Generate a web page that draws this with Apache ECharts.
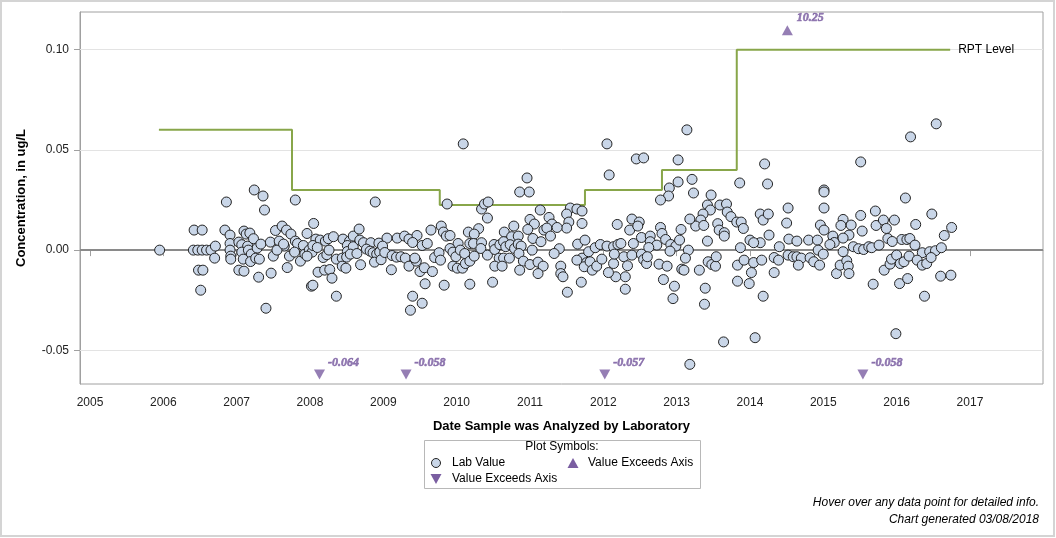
<!DOCTYPE html>
<html>
<head>
<meta charset="utf-8">
<script src="https://cdn.jsdelivr.net/npm/echarts@6/dist/echarts.min.js"></script>
<style>
  html, body { margin: 0; padding: 0; background: #fff; }
  #chart { width: 1056px; height: 538px; }
</style>
</head>
<body>
<div id="chart"></div>
<script>
// decimal year of analysis, concentration (ug/L)
const labSamples = [
  [2005.95, 0.000], [2006.41, 0], [2006.42, 0.010], [2006.47, 0], [2006.48, -0.010], [2006.51, -0.020],
  [2006.53, 0.010], [2006.53, 0], [2006.54, -0.010], [2006.59, 0], [2006.65, 0], [2006.70, -0.004],
  [2006.71, 0.002], [2006.84, 0.010], [2006.86, 0.024], [2006.91, 0.0075], [2006.91, 0.0033], [2006.91, 0],
  [2006.92, -0.003], [2006.92, -0.0045], [2007.03, -0.010], [2007.10, -0.0105], [2007.24, 0.030], [2007.36, 0.027],
  [2007.38, 0.020], [2007.10, 0.0095], [2007.13, 0.008], [2007.18, 0.0085], [2007.03, 0.004], [2007.07, 0.0027],
  [2007.15, 0.002], [2007.23, 0.0057], [2007.07, -0.001], [2007.16, 0], [2007.20, -0.002], [2007.28, 0.001],
  [2007.33, 0.003], [2007.09, -0.0045], [2007.19, -0.0057], [2007.26, -0.004], [2007.31, -0.0045], [2007.30, -0.0135],
  [2007.47, -0.0115], [2007.40, -0.029], [2007.46, 0.004], [2007.53, 0.0098], [2007.58, 0.0045], [2007.62, 0.012],
  [2007.65, 0.002], [2007.68, 0.010], [2007.74, 0.008], [2007.80, 0.0045], [2007.83, 0.0033], [2007.91, 0.0023],
  [2007.96, 0.0083], [2008.05, 0.0133], [2007.50, -0.003], [2007.55, 0], [2007.64, 0.003], [2007.72, -0.003],
  [2007.79, -0.001], [2007.87, -0.0055], [2007.93, -0.002], [2007.99, 0], [2008.03, -0.001], [2007.69, -0.0087],
  [2007.80, 0.025], [2007.96, -0.003], [2008.02, -0.018],
  [2008.89, 0.024], [2009.87, 0.023], [2010.09, 0.053],
  [2008.08, 0.0055], [2008.14, 0.005], [2008.21, 0.0045], [2008.25, 0.0057], [2008.32, 0.0067], [2008.45, 0.0055],
  [2008.54, 0.0045], [2008.59, 0.007], [2008.67, 0.0105], [2008.51, 0.0023], [2008.51, -0.0007], [2008.59, 0.0017],
  [2008.68, 0.005], [2008.73, 0.0037], [2008.83, 0.0037], [2008.94, 0.0035], [2009.05, 0.006], [2009.19, 0.006],
  [2009.29, 0.007], [2009.35, 0.0055], [2009.46, 0.0073], [2009.40, 0.0038], [2009.53, 0.0023], [2009.60, 0.0033],
  [2009.65, 0.010], [2009.79, 0.012], [2009.82, 0.009], [2009.86, 0.007], [2009.91, 0.0073], [2010.02, 0.0033],
  [2010.16, 0.009],
  [2008.04, 0.0023], [2008.10, 0.0013], [2008.18, -0.0037], [2008.23, -0.0023], [2008.26, 0], [2008.36, -0.0045],
  [2008.44, -0.004], [2008.50, -0.0035], [2008.55, -0.002], [2008.64, -0.0017], [2008.77, 0.0005], [2008.82, -0.0005],
  [2008.86, -0.0013], [2008.91, -0.002], [2008.95, -0.001], [2008.99, 0.002], [2008.88, -0.006], [2008.97, -0.0048],
  [2009.02, -0.0012], [2009.12, -0.0027], [2009.18, -0.0035], [2009.24, -0.0033], [2009.30, -0.004], [2009.35, -0.008],
  [2009.45, -0.0055], [2009.43, -0.004], [2009.11, -0.0098], [2009.50, -0.0107], [2009.56, -0.0088], [2009.67, -0.0107],
  [2009.70, -0.0037], [2009.76, -0.0013], [2009.78, -0.005], [2009.91, 0.0008], [2009.95, -0.001], [2009.99, -0.0033],
  [2010.05, 0], [2010.11, -0.0017], [2009.95, -0.008], [2010.01, -0.009], [2010.08, -0.009], [2010.12, -0.0067],
  [2010.18, -0.0055],
  [2008.04, -0.0175], [2008.11, -0.011], [2008.20, -0.010], [2008.27, -0.0097], [2008.30, -0.014], [2008.36, -0.023],
  [2008.44, -0.008], [2008.49, -0.009], [2008.69, -0.0073], [2009.57, -0.0168], [2009.83, -0.0175], [2010.18, -0.017],
  [2009.40, -0.023], [2009.53, -0.0265], [2009.37, -0.030],
  [2012.05, 0.053], [2012.08, 0.0375], [2010.96, 0.036], [2010.86, 0.029], [2010.99, 0.029], [2010.34, 0.0205],
  [2010.38, 0.023], [2010.43, 0.024], [2010.42, 0.016], [2011.14, 0.020], [2011.55, 0.021], [2011.64, 0.0205],
  [2011.71, 0.0195], [2011.50, 0.018], [2011.53, 0.014], [2011.50, 0.011], [2011.71, 0.0133],
  [2011.00, 0.0153], [2011.06, 0.013], [2010.97, 0.0103], [2010.78, 0.012], [2010.65, 0.009], [2010.75, 0.0067],
  [2010.84, 0.007], [2011.04, 0.0058], [2011.15, 0.0042], [2011.19, 0.010], [2011.26, 0.0163], [2011.30, 0.013],
  [2011.23, 0.011], [2011.28, 0.007], [2011.37, 0.0113], [2011.40, 0.0007], [2011.33, -0.0017],
  [2010.30, 0.0107], [2010.24, 0.008], [2010.18, 0.0033], [2010.23, 0.0033], [2010.34, 0.0037], [2010.24, -0.003],
  [2010.33, 0.0008],
  [2010.42, -0.0025], [2010.51, 0.0028], [2010.52, 0.0003], [2010.59, 0.0027], [2010.64, 0.0042], [2010.67, 0.0017],
  [2010.73, 0.0027], [2010.79, 0.0008], [2010.84, 0.003], [2010.88, 0.002], [2010.58, -0.004], [2010.64, -0.004],
  [2010.72, -0.004], [2010.52, -0.008], [2010.62, -0.008],
  [2010.85, -0.0017], [2010.91, -0.0055], [2011.00, -0.0072], [2010.86, -0.010], [2011.03, 0], [2011.11, -0.006],
  [2011.18, -0.008], [2011.11, -0.0117],
  [2011.42, -0.008], [2011.42, -0.0117], [2011.45, -0.0133], [2011.51, -0.021], [2010.49, -0.016], [2011.70, -0.016],
  [2011.65, 0.003], [2011.75, 0.005], [2011.71, -0.004], [2011.77, -0.0063], [2011.74, -0.0083], [2011.82, -0.0058],
  [2011.85, -0.010], [2011.91, -0.008], [2011.80, -0.0008], [2011.89, 0.0012], [2011.96, 0.0028], [2012.05, 0.002],
  [2012.14, 0.0017], [2012.20, 0.0028], [2012.24, 0.0033], [2012.28, -0.0033], [2012.33, -0.0078], [2012.30, -0.0133],
  [2012.30, -0.0195], [2012.17, -0.0133], [2012.07, -0.0112], [2012.14, -0.0067], [2012.15, -0.002], [2011.98, -0.0045],
  [2011.64, -0.005], [2012.19, 0.0128], [2012.36, 0.010], [2012.39, 0.0155], [2012.41, 0.0033],
  [2013.14, 0.060], [2012.45, 0.0455], [2012.55, 0.046], [2013.02, 0.045], [2014.20, 0.043], [2013.21, 0.0353],
  [2013.02, 0.034], [2013.86, 0.0335], [2014.24, 0.033], [2012.90, 0.031], [2012.89, 0.027], [2012.78, 0.025],
  [2013.23, 0.0285], [2013.47, 0.0275], [2013.42, 0.0225], [2013.46, 0.020], [2013.59, 0.0225], [2013.68, 0.023],
  [2013.69, 0.019], [2013.74, 0.0167], [2014.52, 0.021], [2014.14, 0.018], [2014.18, 0.015], [2014.25, 0.018],
  [2014.50, 0.0135],
  [2013.36, 0.018], [2013.33, 0.015], [2013.26, 0.012], [2013.37, 0.0123], [2013.18, 0.0155], [2013.06, 0.0103],
  [2013.56, 0.0132], [2013.58, 0.010], [2013.65, 0.0087], [2013.65, 0.007], [2013.82, 0.014], [2013.88, 0.014],
  [2013.91, 0.0108], [2012.49, 0.014], [2012.47, 0.012],
  [2012.52, 0.0063], [2012.64, 0.007], [2012.64, 0.0042], [2012.78, 0.0113], [2012.80, 0.0083], [2012.85, 0.0053],
  [2012.73, 0.0025], [2012.62, 0.0013], [2012.92, 0.0028], [2012.99, 0.002], [2013.04, 0.005], [2012.91, -0.0005],
  [2013.16, 0], [2013.42, 0.0045],
  [2012.39, -0.0025], [2012.52, -0.002], [2012.55, -0.0047], [2012.59, -0.0067], [2012.60, -0.0033], [2012.76, -0.007],
  [2012.87, -0.008], [2012.82, -0.0147], [2012.97, -0.018], [2012.95, -0.0242], [2013.07, -0.0095], [2013.10, -0.010],
  [2013.12, -0.004], [2013.31, -0.010], [2013.39, -0.019], [2013.38, -0.027], [2013.43, -0.0058], [2013.48, -0.0072],
  [2013.53, -0.008], [2013.54, -0.0033], [2013.64, -0.0458], [2013.83, -0.0075], [2013.92, -0.005], [2013.87, 0.0012],
  [2013.83, -0.0155], [2013.99, -0.0167], [2014.02, -0.0112], [2014.05, -0.0062], [2014.16, -0.005], [2014.18, -0.023],
  [2014.07, -0.0437], [2014.33, -0.0037], [2014.33, -0.0112], [2014.39, -0.005], [2014.40, 0.0017], [2014.26, 0.0075],
  [2014.52, -0.0025], [2014.59, -0.0033], [2014.14, 0.0037], [2014.00, 0.005], [2014.05, 0.0037], [2014.53, 0.0055],
  [2013.18, -0.057],
  [2016.54, 0.063], [2016.19, 0.0565], [2015.51, 0.044], [2015.01, 0.030], [2015.01, 0.029], [2015.01, 0.021],
  [2016.12, 0.026], [2015.71, 0.0195], [2015.51, 0.0173], [2016.48, 0.018],
  [2015.27, 0.0153], [2015.24, 0.0123], [2015.38, 0.0125], [2014.96, 0.0125], [2015.01, 0.010], [2015.53, 0.0095],
  [2015.72, 0.0123], [2015.82, 0.015], [2015.86, 0.0108], [2015.97, 0.015], [2016.26, 0.0128], [2016.07, 0.0053],
  [2016.14, 0.0053], [2016.65, 0.0073], [2016.75, 0.0113],
  [2014.64, 0.0045], [2014.80, 0.005], [2014.92, 0.005], [2015.13, 0.007], [2015.15, 0.0038], [2015.35, 0.0075],
  [2015.27, 0.006], [2015.09, 0.0028], [2015.41, 0.0017], [2015.48, 0.0007], [2015.55, 0.0003], [2015.62, 0.0017],
  [2015.66, 0.0012], [2015.76, 0.0025], [2015.88, 0.0058], [2015.94, 0.0043], [2016.18, 0.0058], [2016.25, 0.0025],
  [2016.35, -0.0013], [2016.45, -0.0008], [2016.53, -0.0003], [2016.61, 0.0012],
  [2014.64, -0.0033], [2014.70, -0.004], [2014.66, -0.0075], [2014.82, -0.0038], [2014.87, -0.0058], [2014.95, -0.0075],
  [2014.93, 0], [2015.00, -0.002], [2015.18, -0.0117], [2015.23, -0.0075], [2015.32, -0.0053], [2015.34, -0.008],
  [2015.35, -0.0117], [2015.27, -0.0008], [2015.68, -0.017], [2015.83, -0.010], [2015.91, -0.007], [2015.93, -0.0045],
  [2016.00, -0.0025], [2016.05, -0.0067], [2016.10, -0.0058], [2016.04, -0.0167], [2016.15, -0.0142], [2016.17, -0.003],
  [2016.28, -0.005], [2016.35, -0.0075], [2016.41, -0.0067], [2016.47, -0.0037], [2016.38, -0.023], [2015.99, -0.0417],
  [2016.60, -0.013], [2016.74, -0.0125]
];

// RPT level steps
const rptStarts = [2005.94, 2007.755, 2009.77, 2011.75, 2012.80, 2013.82];
const rptLevels = [0.06, 0.03, 0.0225, 0.03, 0.04, 0.10];
const rptEnd = 2016.73;

// off-axis values, drawn at the axis edge
const exceedUpYears = [2014.51];
const exceedUpLabels = ['10.25'];
const exceedDownYears = [2008.13, 2009.31, 2012.02, 2015.54];
const exceedDownLabels = ['-0.064', '-0.058', '-0.057', '-0.058'];
const exceedUpAt = 0.1097;
const exceedDownAt = -0.062;

const xTicks = [2005, 2006, 2007, 2008, 2009, 2010, 2011, 2012, 2013, 2014, 2015, 2016, 2017];
const yTicks = [-0.05, 0, 0.05, 0.1];

const FONT = 'Liberation Sans, Arial, sans-serif';
const PURPLE = '#7a5ea1';
const FILL = '#c9d6e8';

const rptData = rptStarts.map((s, i) => [s, rptLevels[i]]);
rptData.push([rptEnd, rptLevels[rptLevels.length - 1]]);

const exceedLabel = {
  show: true,
  position: 'right',
  distance: 3,
  offset: [0, -11],
  formatter: p => p.name,
  color: PURPLE,
  fontFamily: 'Liberation Serif, Times New Roman, serif',
  fontStyle: 'italic',
  fontWeight: 700,
  fontSize: 12,
  textBorderColor: PURPLE,
  textBorderWidth: 0.6
};

const chart = echarts.init(document.getElementById('chart'));
chart.setOption({
  animation: false,
  grid: {
    left: 80, right: 13, top: 12, bottom: 154,
    show: true, borderColor: '#a0a0a0', borderWidth: 1
  },
  xAxis: {
    type: 'value',
    min: 2004.864,
    max: 2017.996,
    name: 'Date Sample was Analyzed by Laboratory',
    nameLocation: 'middle',
    nameGap: 36,
    nameTextStyle: {fontFamily: FONT, fontWeight: 'bold', fontSize: 13, color: '#000'},
    axisLine: {lineStyle: {color: '#a0a0a0'}},
    axisTick: {customValues: xTicks, length: 6, lineStyle: {color: '#a0a0a0'}},
    axisLabel: {customValues: xTicks, formatter: v => String(v), margin: 13,
      fontFamily: FONT, fontSize: 12, color: '#222'},
    splitLine: {show: false}
  },
  yAxis: {
    type: 'value',
    min: -0.0668,
    max: 0.1188,
    name: 'Concentration, in ug/L',
    nameLocation: 'middle',
    nameGap: 52,
    nameTextStyle: {fontFamily: FONT, fontWeight: 'bold', fontSize: 13, color: '#000'},
    axisLine: {show: true, lineStyle: {color: '#a0a0a0'}},
    axisTick: {show: true, customValues: yTicks, length: 6, lineStyle: {color: '#a0a0a0'}},
    axisLabel: {customValues: yTicks, formatter: v => v.toFixed(2), margin: 11,
      fontFamily: FONT, fontSize: 12, color: '#222'},
    splitLine: {show: false}
  },
  series: [
    {
      type: 'line',
      name: 'RPT Level',
      step: 'end',
      data: rptData,
      showSymbol: false,
      z: 8,
      lineStyle: {color: '#88a64a', width: 2},
      endLabel: {show: true, formatter: 'RPT Level', color: '#000', fontFamily: FONT, fontSize: 12, distance: 8},
      markLine: {
        silent: true,
        z: 1,
        symbol: ['none', 'none'],
        label: {show: false},
        data: [
          {yAxis: 0.1, lineStyle: {color: '#e3e3e3', width: 1, type: 'solid'}},
          {yAxis: 0.05, lineStyle: {color: '#e3e3e3', width: 1, type: 'solid'}},
          {yAxis: -0.05, lineStyle: {color: '#e3e3e3', width: 1, type: 'solid'}},
          {yAxis: 0, lineStyle: {color: '#8a8a8a', width: 2, type: 'solid'}}
        ]
      }
    },
    {
      type: 'scatter',
      name: 'Lab Value',
      data: labSamples,
      symbol: 'circle',
      symbolSize: 10,
      z: 10,
      itemStyle: {color: FILL, borderColor: '#222', borderWidth: 1, opacity: 1}
    },
    {
      type: 'scatter',
      name: 'Value Exceeds Axis',
      data: exceedUpYears.map((y, i) => ({name: exceedUpLabels[i], value: [y, exceedUpAt]})),
      symbol: 'triangle',
      symbolSize: [11, 10],
      z: 10,
      itemStyle: {color: PURPLE},
      label: Object.assign({}, exceedLabel, {offset: [1, -12]})
    },
    {
      type: 'scatter',
      name: 'Value Exceeds Axis ',
      data: exceedDownYears.map((y, i) => ({name: exceedDownLabels[i], value: [y, exceedDownAt]})),
      symbol: 'triangle',
      symbolRotate: 180,
      symbolSize: [11, 10],
      z: 10,
      itemStyle: {color: PURPLE},
      label: exceedLabel
    }
  ],
  graphic: [
    {type: 'rect', shape: {x: 1, y: 1, width: 1053, height: 535}, style: {fill: 'none', stroke: '#d4d4d4', lineWidth: 2}, silent: true},
    {
      type: 'group',
      children: [
        {type: 'rect', shape: {x: 424.5, y: 440.5, width: 276, height: 48}, style: {fill: '#fff', stroke: '#b8b8b8', lineWidth: 1}},
        {type: 'text', x: 562, y: 447, style: {text: 'Plot Symbols:', align: 'center', verticalAlign: 'middle', font: '12px ' + FONT, fill: '#000'}},
        {type: 'circle', shape: {cx: 436, cy: 463, r: 4.5}, style: {fill: FILL, stroke: '#222', lineWidth: 1}},
        {type: 'text', x: 452, y: 463, style: {text: 'Lab Value', align: 'left', verticalAlign: 'middle', font: '12px ' + FONT, fill: '#000'}},
        {type: 'polygon', shape: {points: [[567.5, 468], [578.5, 468], [573, 458]]}, style: {fill: PURPLE}},
        {type: 'text', x: 588, y: 463, style: {text: 'Value Exceeds Axis', align: 'left', verticalAlign: 'middle', font: '12px ' + FONT, fill: '#000'}},
        {type: 'polygon', shape: {points: [[430.5, 474], [441.5, 474], [436, 484]]}, style: {fill: PURPLE}},
        {type: 'text', x: 452, y: 479, style: {text: 'Value Exceeds Axis', align: 'left', verticalAlign: 'middle', font: '12px ' + FONT, fill: '#000'}}
      ]
    },
    {type: 'text', x: 1039, y: 503, style: {text: 'Hover over any data point for detailed info.', align: 'right', verticalAlign: 'middle', font: 'italic 12px ' + FONT, fill: '#000'}},
    {type: 'text', x: 1039, y: 520, style: {text: 'Chart generated 03/08/2018', align: 'right', verticalAlign: 'middle', font: 'italic 12px ' + FONT, fill: '#000'}}
  ]
});
</script>
</body>
</html>
